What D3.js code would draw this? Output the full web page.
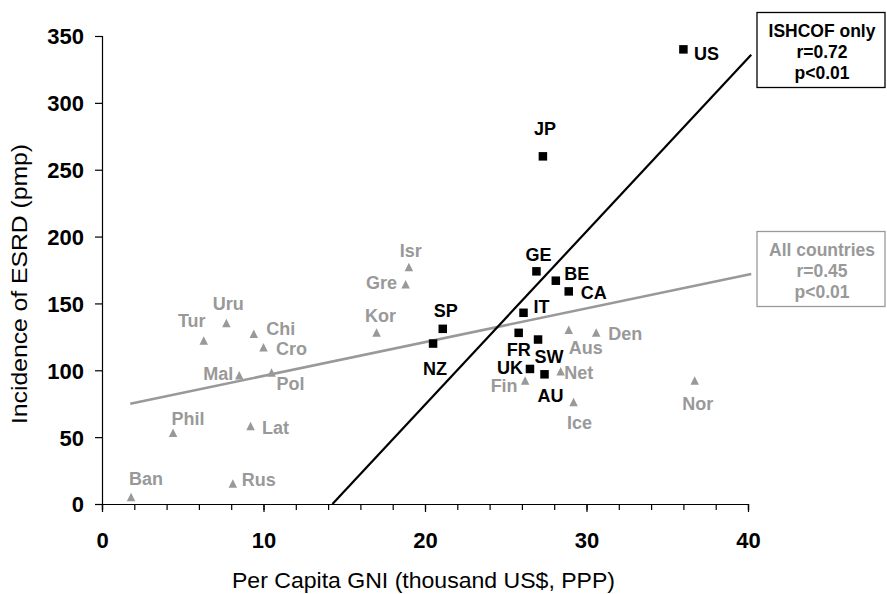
<!DOCTYPE html>
<html>
<head>
<meta charset="utf-8">
<script src="https://cdn.jsdelivr.net/npm/d3@7"></script>
<style>
html, body { margin: 0; padding: 0; background: #fff; }
svg { display: block; font-family: "Liberation Sans", Arial, Helvetica, sans-serif; }
</style>
</head>
<body>
<svg id="chart" width="887" height="594"></svg>
<script>
// ---------- data ----------
const ishcofCountries = ["US", "JP", "GE", "BE", "CA", "IT", "SP", "NZ", "FR", "SW", "UK", "AU"];
const ishcofGNI      = [36.0, 27.3, 26.9, 28.1, 28.9, 26.1, 21.1, 20.5, 25.8, 27.0, 26.5, 27.4];
const ishcofESRD     = [340, 260, 174, 167, 159, 143, 131, 120, 128, 123, 101, 97];

const otherCountries = ["Isr", "Gre", "Kor", "Aus", "Den", "Net", "Fin", "Ice", "Nor", "Uru", "Tur", "Chi", "Cro", "Mal", "Pol", "Phil", "Lat", "Ban", "Rus"];
const otherGNI       = [19.0, 18.8, 17.0, 28.9, 30.6, 28.4, 26.2, 29.2, 36.7, 7.7, 6.3, 9.4, 10.0, 8.5, 10.5, 4.4, 9.2, 1.8, 8.1];
const otherESRD      = [177, 164, 128, 130, 128, 99, 92, 76, 92, 135, 122, 127, 117, 96, 98, 53, 58, 5, 15];

const ishcofFitGNI  = [14.27, 40.2];
const ishcofFitESRD = [0, 336];
const allFitGNI     = [1.75, 40.2];
const allFitESRD    = [75, 172];

const xTickValues = [0, 10, 20, 30, 40];
const yTickValues = [0, 50, 100, 150, 200, 250, 300, 350];

const ishcofLegend = ["ISHCOF only", "r=0.72", "p<0.01"];
const allLegend    = ["All countries", "r=0.45", "p<0.01"];

const xTitle = "Per Capita GNI (thousand US$, PPP)";
const yTitle = "Incidence of ESRD (pmp)";

// ---------- layout (label offsets relative to marker, px) ----------
const labelOffset = {
  US: [23, 4], JP: [2, -28], GE: [2, -17], BE: [21, -7], CA: [25, 1], IT: [18, -6],
  SP: [3, -18], NZ: [2, 25], FR: [0, 17], SW: [11, 17], UK: [-20, -1], AU: [6, 21],
  Isr: [2, -17], Gre: [-24, -2], Kor: [4, -17], Aus: [17, 17], Den: [29, 1], Net: [18, 1],
  Fin: [-21, 5], Ice: [6, 20], Nor: [3, 23], Uru: [2, -20], Tur: [-12, -20], Chi: [27, -6],
  Cro: [28, 1], Mal: [-21, -2], Pol: [19, 11], Phil: [15, -15], Lat: [25, 1], Ban: [15, -19], Rus: [26, -4]
};

const GRAY = "#999999";
const svg = d3.select("#chart");

const x = d3.scaleLinear().domain([0, 40]).range([102, 748]);
const y = d3.scaleLinear().domain([0, 350]).range([504, 36]);

// ---------- axes ----------
const xAxisMinor = d3.axisBottom(x).tickValues(d3.range(0, 41, 2)).tickSize(6).tickFormat("");
const xAxisMajor = d3.axisBottom(x).tickValues(xTickValues).tickSize(8).tickPadding(20);
const yAxis = d3.axisLeft(y).tickValues(yTickValues).tickSize(7).tickPadding(11);

const gxMinor = svg.append("g").attr("transform", `translate(0,${y(0)})`).call(xAxisMinor);
const gx = svg.append("g").attr("transform", `translate(0,${y(0)})`).call(xAxisMajor);
gx.select(".domain").remove();
const gy = svg.append("g").attr("transform", `translate(${x(0)},0)`).call(yAxis);

[gxMinor, gx, gy].forEach(g => {
  g.selectAll(".domain").attr("stroke", "#000").attr("stroke-width", 1.2);
  g.selectAll(".tick line").attr("stroke", "#000").attr("stroke-width", 1.2);
  g.selectAll(".tick text")
    .attr("fill", "#000")
    .style("font-size", "22px")
    .style("font-weight", "bold")
    .style("font-family", "'Liberation Sans', Arial, sans-serif");
});
gy.selectAll(".tick text").attr("dy", "0.36em");

// axis titles
svg.append("text")
  .attr("x", 423.5).attr("y", 588)
  .attr("text-anchor", "middle")
  .style("font-size", "21.5px")
  .attr("textLength", 383).attr("lengthAdjust", "spacingAndGlyphs")
  .attr("fill", "#000")
  .text(xTitle);

svg.append("text")
  .attr("transform", `translate(27,${284}) rotate(-90)`)
  .attr("text-anchor", "middle")
  .style("font-size", "21.5px")
  .attr("textLength", 280).attr("lengthAdjust", "spacingAndGlyphs")
  .attr("fill", "#000")
  .text(yTitle);

// ---------- regression lines ----------
const line = d3.line().x(d => x(d[0])).y(d => y(d[1]));
svg.append("path")
  .datum(allFitGNI.map((g, i) => [g, allFitESRD[i]]))
  .attr("d", line).attr("fill", "none").attr("stroke", GRAY).attr("stroke-width", 2.5);
svg.append("path")
  .datum(ishcofFitGNI.map((g, i) => [g, ishcofFitESRD[i]]))
  .attr("d", line).attr("fill", "none").attr("stroke", "#000").attr("stroke-width", 2.2);

// ---------- other countries (gray triangles) ----------
const tri = s => `M0,${-s * 0.55}L${s / 2},${s * 0.45}L${-s / 2},${s * 0.45}Z`;
const others = otherCountries.map((c, i) => ({ c, gx: otherGNI[i], v: otherESRD[i] }));
svg.append("g").selectAll("path").data(others).join("path")
  .attr("d", tri(8.5))
  .attr("transform", d => `translate(${x(d.gx)},${y(d.v)})`)
  .attr("fill", GRAY);

svg.append("g").selectAll("text").data(others).join("text")
  .attr("x", d => x(d.gx) + labelOffset[d.c][0])
  .attr("y", d => y(d.v) + labelOffset[d.c][1])
  .attr("dy", "0.36em")
  .attr("text-anchor", "middle")
  .style("font-size", "18px").style("font-weight", "bold")
  .attr("fill", GRAY)
  .text(d => d.c);

// ---------- ISHCOF countries (black squares) ----------
const ish = ishcofCountries.map((c, i) => ({ c, gx: ishcofGNI[i], v: ishcofESRD[i] }));
const sq = 8.5;
svg.append("g").selectAll("rect").data(ish).join("rect")
  .attr("x", d => x(d.gx) - sq / 2)
  .attr("y", d => y(d.v) - sq / 2)
  .attr("width", sq).attr("height", sq)
  .attr("fill", "#000");

svg.append("g").selectAll("text").data(ish).join("text")
  .attr("x", d => x(d.gx) + labelOffset[d.c][0])
  .attr("y", d => y(d.v) + labelOffset[d.c][1])
  .attr("dy", "0.36em")
  .attr("text-anchor", "middle")
  .style("font-size", "18px").style("font-weight", "bold")
  .attr("fill", "#000")
  .text(d => d.c);

// ---------- legend boxes ----------
function legendBox(lines, top, color) {
  const g = svg.append("g");
  g.append("rect")
    .attr("x", 757).attr("y", top).attr("width", 128).attr("height", 75)
    .attr("fill", "#fff").attr("stroke", color).attr("stroke-width", 1.3);
  g.selectAll("text").data(lines).join("text")
    .attr("x", 822).attr("y", (d, i) => top + 18 + i * 21)
    .attr("dy", "0.36em")
    .attr("text-anchor", "middle")
    .style("font-size", "17.5px").style("font-weight", "bold")
    .attr("fill", color)
    .text(d => d);
}
legendBox(ishcofLegend, 12.5, "#000");
legendBox(allLegend, 231.5, GRAY);
</script>
</body>
</html>
